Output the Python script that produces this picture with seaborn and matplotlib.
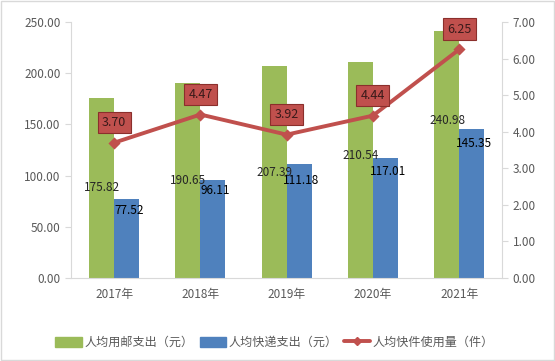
import pandas as pd
import matplotlib.pyplot as plt
import matplotlib.patches as mpatches
import matplotlib.lines as mlines
import seaborn as sns

# Data
years = ["2017年", "2018年", "2019年", "2020年", "2021年"]
postal = [175.82, 190.65, 207.39, 210.54, 240.98]
express = [77.52, 96.11, 111.18, 117.01, 145.35]
parcels = [3.70, 4.47, 3.92, 4.44, 6.25]
names = ["人均用邮支出（元）", "人均快递支出（元）", "人均快件使用量（件）"]

# where the bar value labels sit (left axis units)
postal_label_y = [88, 95, 103.5, 120, 154]
express_label_y = [66, 85, 95, 104, 131]

green = "#9BBB59"
blue = "#4F81BD"
red = "#C0504D"
grey = "#595959"

sns.set_style("white")
plt.rcParams["font.family"] = ["Noto Sans CJK SC", "DejaVu Sans"]

df = pd.DataFrame({
    "year": years * 2,
    "value": postal + express,
    "series": [names[0]] * 5 + [names[1]] * 5,
})

fig = plt.figure(figsize=(5.55, 3.61), dpi=100)
ax = fig.add_axes([0.128, 0.23, 0.777, 0.709])

sns.barplot(data=df, x="year", y="value", hue="series", hue_order=names[:2],
            palette=[green, blue], width=0.58, saturation=1, linewidth=0,
            edgecolor="none", ax=ax, legend=False)
ax.set_ylim(0, 250)
ax.set_xlim(-0.5, 4.5)
ax.set_yticks([0, 50, 100, 150, 200, 250])
ax.set_yticklabels([f"{v:.2f}" for v in [0, 50, 100, 150, 200, 250]])
ax.set_xlabel("")
ax.set_ylabel("")

# value labels on bars
for i in range(len(years)):
    ax.text(i - 0.14, postal_label_y[i], f"{postal[i]:.2f}", ha="center", va="center",
            fontsize=8.5, color="#262626")
    ax.text(i + 0.17, express_label_y[i], f"{express[i]:.2f}", ha="center", va="center",
            fontsize=8.5, color="black")

ax2 = ax.twinx()
sns.pointplot(x=years, y=parcels, color=red, marker="D", markersize=4.5,
              linewidth=2.8, ax=ax2)
ax2.set_ylim(0, 7)
ax2.set_yticks(range(8))
ax2.set_yticklabels([f"{v:.2f}" for v in range(8)])
ax2.set_xlim(-0.5, 4.5)

for i, v in enumerate(parcels):
    ax2.annotate(f"{v:.2f}", (i, v), xytext=(0, 14.5), textcoords="offset points",
                 ha="center", va="center", fontsize=9, color="#3a1a1a",
                 bbox=dict(boxstyle="square,pad=0.35", fc=red, ec="#8b2f2c", lw=0.8))

# axes styling
for a in (ax, ax2):
    for s in a.spines.values():
        s.set_visible(False)
    a.tick_params(axis="y", colors=grey, labelsize=8.5, length=4, width=0.8, color="#d9d9d9")
ax.spines["left"].set_visible(True)
ax.spines["left"].set_color("#d9d9d9")
ax2.spines["right"].set_visible(True)
ax2.spines["right"].set_color("#d9d9d9")
ax.spines["bottom"].set_visible(True)
ax.spines["bottom"].set_color("#d9d9d9")
ax.tick_params(axis="x", colors=grey, labelsize=8.5, length=0, pad=7)
ax.set_xticks([x - 0.5 for x in range(6)], minor=True)
ax.tick_params(axis="x", which="minor", length=5, color="#d9d9d9")

# legend at the bottom
handles = [
    mpatches.Patch(color=green, label=names[0]),
    mpatches.Patch(color=blue, label=names[1]),
    mlines.Line2D([], [], color=red, marker="D", markersize=4.5, lw=2.8, label=names[2]),
]
fig.legend(handles=handles, loc="center", bbox_to_anchor=(0.495, 0.052), ncol=3,
           frameon=False, fontsize=8.7, handlelength=2.2, handleheight=0.9,
           columnspacing=0.5, handletextpad=0.2, labelcolor=grey)

# chart border
fig.patches.append(mpatches.Rectangle((0.002, 0.003), 0.996, 0.994, transform=fig.transFigure,
                                      fill=False, ec="#d9d9d9", lw=1))

plt.savefig("out.png", dpi=100)
